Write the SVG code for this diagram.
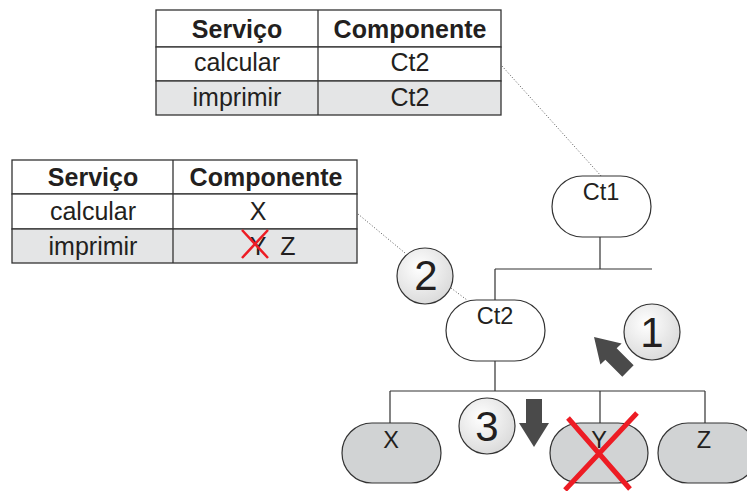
<svg xmlns="http://www.w3.org/2000/svg" width="747" height="491" viewBox="0 0 747 491">
  <style>
    text { font-family: "Liberation Sans", Arial, sans-serif; fill: #231f20; }
    .cell { fill: #ffffff; stroke: #333333; stroke-width: 1.3; }
    .cell.shade { fill: #e4e5e6; }
    .grid { stroke: #333333; stroke-width: 1.3; }
    .th { font-size: 25px; font-weight: bold; text-anchor: middle; }
    .td { font-size: 25px; text-anchor: middle; }
    .node { fill: #ffffff; stroke: #333333; stroke-width: 1.2; }
    .leaf { fill: #d1d3d4; stroke: #333333; stroke-width: 1.2; }
    .label { font-size: 23.5px; text-anchor: middle; }
    .tree { fill: none; stroke: #333333; stroke-width: 1.2; }
    .dots { fill: none; stroke: #555555; stroke-width: 1; stroke-dasharray: 1 2; }
    .step { fill: url(#stepFill); stroke: #333333; stroke-width: 1.2; }
    .num { font-size: 42px; text-anchor: middle; }
    .arrow { fill: #4a4a4a; }
    .strike { stroke: #ed1c24; fill: none; stroke-linecap: butt; }
  </style>
  <defs>
    <radialGradient id="stepFill" cx="0.4" cy="0.35" r="0.7">
      <stop offset="0" stop-color="#ffffff"/>
      <stop offset="1" stop-color="#d9d9d9"/>
    </radialGradient>
    <path id="bigArrow" d="M-8,-24 L8,-24 L8,0 L15,0 L0,24 L-15,0 L-8,0 Z"/>
  </defs>

  <!-- connectors -->
  <g id="connectors">
    <path class="tree" d="M600,237 V269 M495,269 H652 M495,269 V300"/>
    <path class="tree" d="M495,361 V391 M390,391 H705 M390,391 V423 M600,391 V423 M705,391 V423"/>
    <path class="dots" d="M502,66 L602,177"/>
    <path class="dots" d="M358,214 L405,253"/>
    <path class="dots" d="M451,288 L467,300"/>
  </g>

  <!-- table for Ct1 -->
  <g id="table-ct1">
    <rect class="cell" x="156" y="10" width="345" height="37"/>
    <rect class="cell" x="156" y="47" width="345" height="34"/>
    <rect class="cell shade" x="156" y="81" width="345" height="34"/>
    <line class="grid" x1="318" y1="10" x2="318" y2="115"/>
    <text class="th" x="237" y="38">Serviço</text>
    <text class="th" x="410" y="38">Componente</text>
    <text class="td" x="237" y="71">calcular</text>
    <text class="td" x="410" y="71">Ct2</text>
    <text class="td" x="237" y="106">imprimir</text>
    <text class="td" x="410" y="106">Ct2</text>
  </g>

  <!-- table for Ct2 -->
  <g id="table-ct2">
    <rect class="cell" x="12" y="160" width="345" height="34"/>
    <rect class="cell" x="12" y="194" width="345" height="35"/>
    <rect class="cell shade" x="12" y="229" width="345" height="34"/>
    <line class="grid" x1="173" y1="160" x2="173" y2="263"/>
    <text class="th" x="93" y="186">Serviço</text>
    <text class="th" x="266" y="186">Componente</text>
    <text class="td" x="93" y="220">calcular</text>
    <text class="td" x="258" y="220">X</text>
    <text class="td" x="93" y="255">imprimir</text>
    <text class="td" x="258" y="255">Y</text>
    <text class="td" x="288" y="255">Z</text>
    <path class="strike" stroke-width="2.5" d="M242,230 L268,258 M268,230 L242,258"/>
  </g>

  <!-- components -->
  <g id="ct1">
    <rect class="node" x="552" y="176" width="99" height="61" rx="30.5"/>
    <text class="label" x="601" y="200">Ct1</text>
  </g>
  <g id="ct2">
    <rect class="node" x="446" y="300" width="99" height="61" rx="30.5"/>
    <text class="label" x="495" y="324">Ct2</text>
  </g>
  <g id="x">
    <rect class="leaf" x="342" y="423" width="99" height="60" rx="30"/>
    <text class="label" x="391" y="448">X</text>
  </g>
  <g id="y">
    <rect class="leaf" x="550" y="423" width="98" height="60" rx="30"/>
    <text class="label" x="599" y="448">Y</text>
    <path class="strike" stroke-width="5" d="M568,418 L630,489 M637,413 L565,490"/>
  </g>
  <g id="z">
    <rect class="leaf" x="658" y="423" width="99" height="60" rx="30"/>
    <text class="label" x="704" y="448">Z</text>
  </g>

  <!-- numbered steps -->
  <g id="step1">
    <circle class="step" cx="652" cy="332" r="28"/>
    <text class="num" x="652" y="347">1</text>
    <use href="#bigArrow" class="arrow" transform="translate(611,354) rotate(135)"/>
  </g>
  <g id="step2">
    <circle class="step" cx="425" cy="276" r="28"/>
    <text class="num" x="426" y="290">2</text>
  </g>
  <g id="step3">
    <circle class="step" cx="487" cy="426" r="28"/>
    <text class="num" x="487" y="441">3</text>
    <use href="#bigArrow" class="arrow" transform="translate(534,423)"/>
  </g>
</svg>
